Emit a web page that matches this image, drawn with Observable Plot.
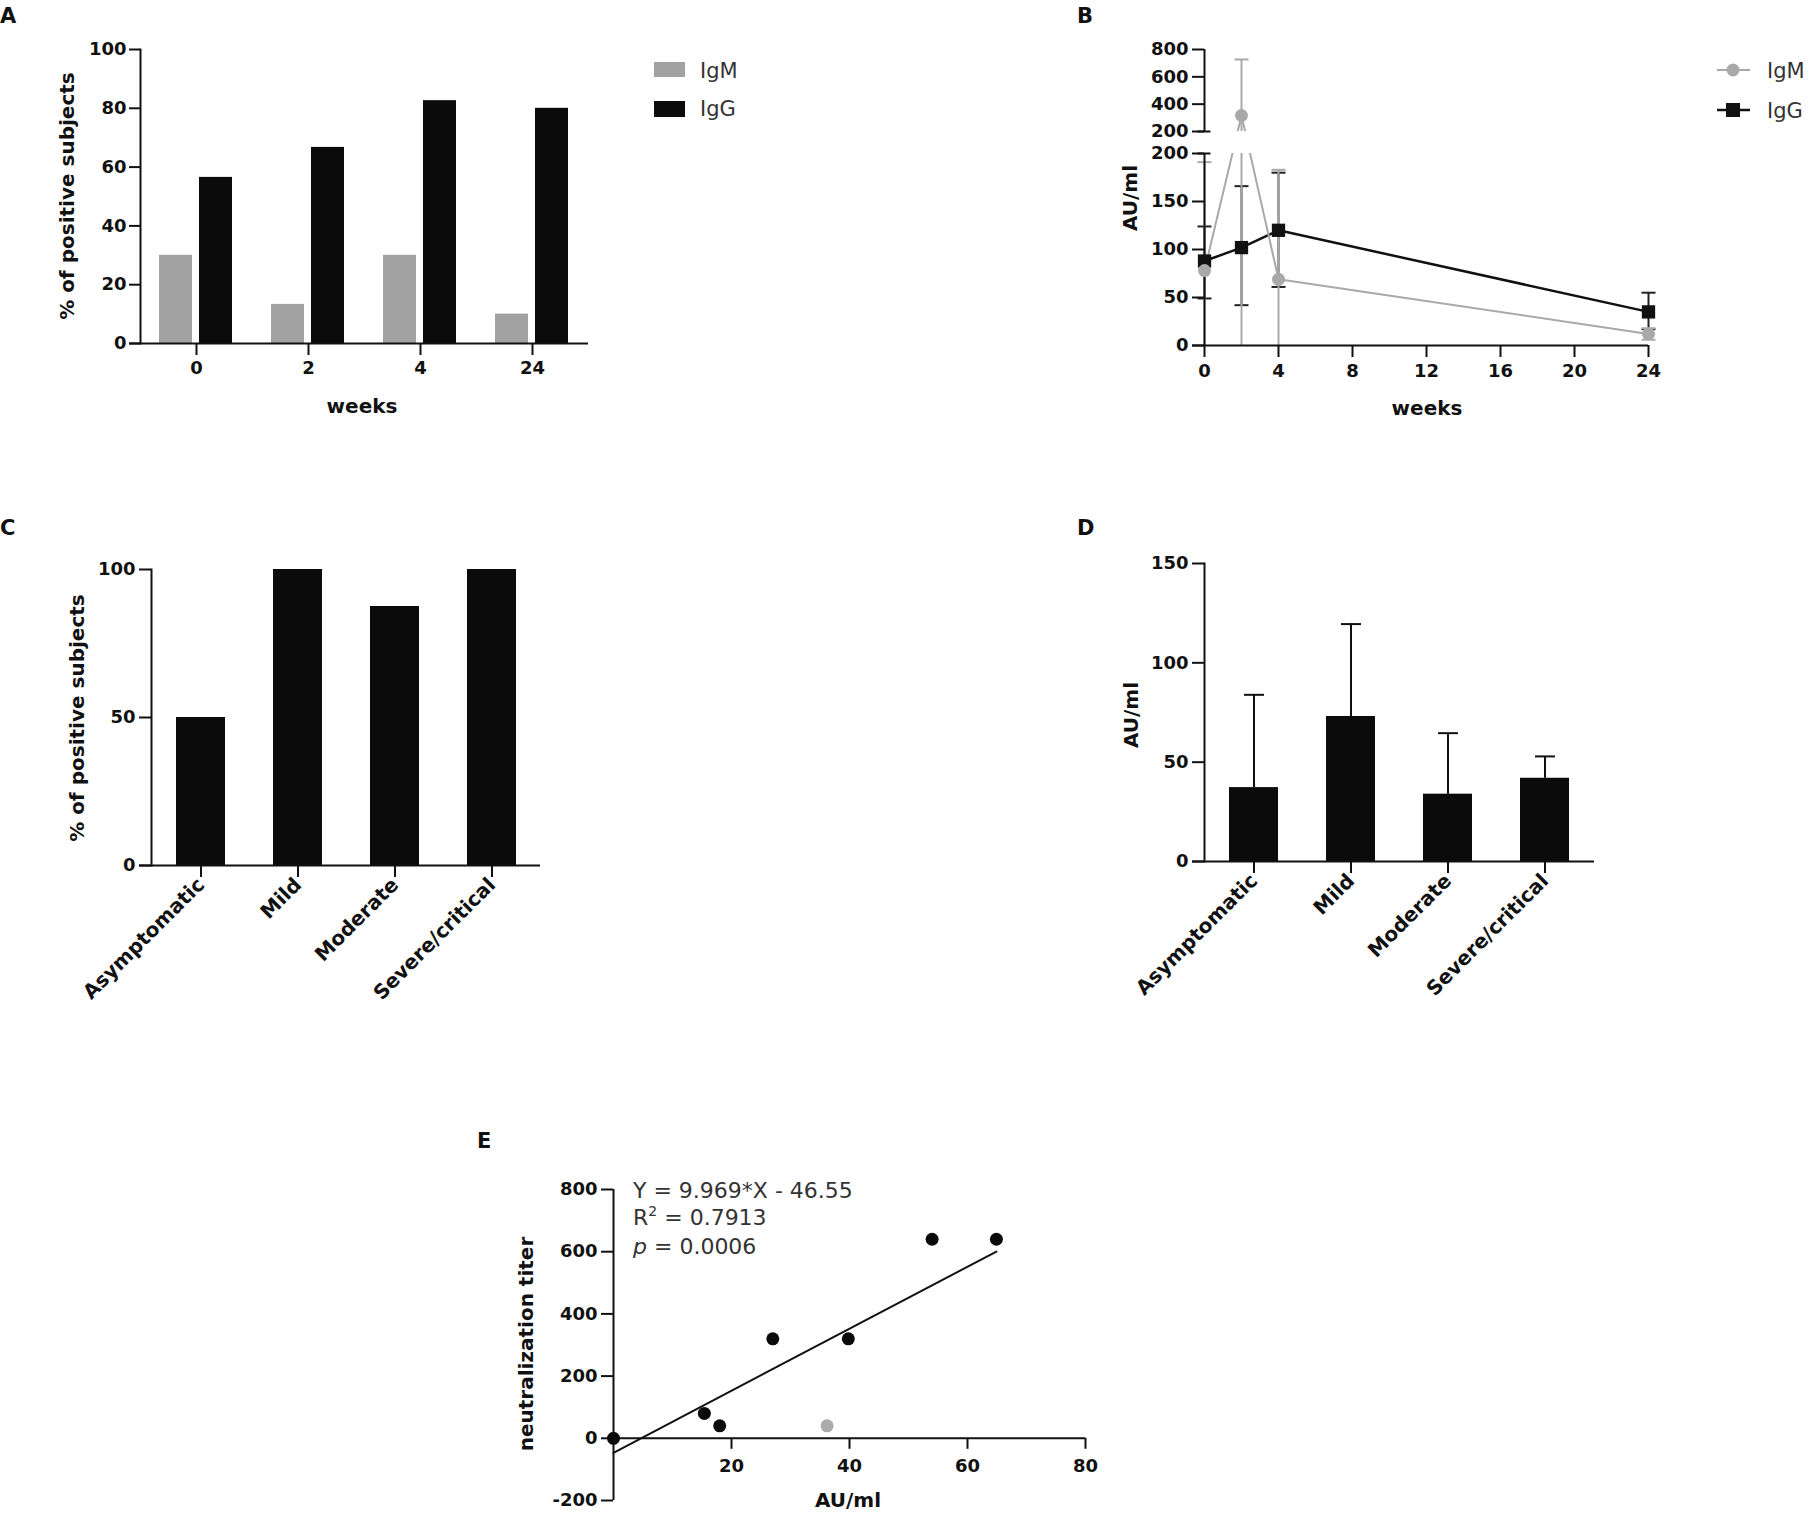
<!DOCTYPE html>
<html><head><meta charset="utf-8">
<script src="https://cdn.jsdelivr.net/npm/d3@7"></script>
<script src="https://cdn.jsdelivr.net/npm/@observablehq/plot@0.6"></script>
<style>
html,body{margin:0;padding:0;background:#fff;}
#page{position:relative;width:1817px;height:1514px;overflow:hidden;background:#fff;}
.panel{position:absolute;}
.panel svg{overflow:visible;background:transparent !important;max-width:none !important;}
#overlay{position:absolute;left:0;top:0;pointer-events:none;}
</style></head><body><div id="page"></div>
<script>
// ---------- data ----------
// Panel A: % positive subjects by week
const weeksCat = ["0", "2", "4", "24"];
const igmPct = [30, 13.3, 30, 10];
const iggPct = [56.5, 66.7, 82.6, 80];

// Panel B: AU/ml over weeks (mean with error bar ends)
const weeksNum = [0, 2, 4, 24];
const igmMean = [78, 317, 69, 12];
const igmLo = [0, 0, 0, 6];
const igmHi = [191, 727, 183, 18];
const iggMean = [88, 102, 120, 35];
const iggLo = [49, 42, 61, 17];
const iggHi = [124, 166, 180, 55];

// Panels C / D: by severity
const severity = ["Asymptomatic", "Mild", "Moderate", "Severe/critical"];
const severityPct = [50, 100, 87.5, 100];
const severityAU = [37.2, 73, 33.9, 41.9];
const severityAUHi = [83.9, 119.5, 64.6, 52.9];

// Panel E: neutralization titer vs AU/ml
const titerAU = [0, 15.4, 18, 27, 39.8, 54, 64.9];
const titerVal = [0, 80, 40, 320, 320, 640, 640];
const outlierAU = [36.2];
const outlierVal = [40];
const fitSlope = 9.969;
const fitIntercept = -46.55;

// ticks
const ticksA = [0, 20, 40, 60, 80, 100];
const ticksBLower = [0, 50, 100, 150, 200];
const ticksBUpper = [200, 400, 600, 800];
const ticksBX = [0, 4, 8, 12, 16, 20, 24];
const ticksC = [0, 50, 100];
const ticksD = [0, 50, 100, 150];
const ticksEY = [-200, 0, 200, 400, 600, 800];
const ticksEX = [20, 40, 60, 80];

// ---------- styles ----------
const GRAY = "#a2a2a2";
const BLACK = "#0b0b0b";
const FONT = "'DejaVu Sans', 'Liberation Sans', Arial, sans-serif";
const baseStyle = {fontFamily: FONT, fontSize: "18px", fontWeight: "bold", color: "#111", background: "transparent"};
const capSymbol = {draw(ctx, size) { const r = Math.sqrt(size / Math.PI); ctx.moveTo(-r, 0); ctx.lineTo(r, 0); }};

const page = document.getElementById("page");
function place(el, left, top) {
  const d = document.createElement("div");
  d.className = "panel"; d.style.left = left + "px"; d.style.top = top + "px";
  d.appendChild(el); page.appendChild(d);
}

// ---------- Panel A ----------
const aIgM = weeksCat.map((w, i) => ({week: w, v: igmPct[i]}));
const aIgG = weeksCat.map((w, i) => ({week: w, v: iggPct[i]}));
place(Plot.plot({
  width: 600, height: 400, marginLeft: 140, marginRight: 12, marginTop: 49, marginBottom: 57,
  style: baseStyle,
  x: {type: "band", domain: weeksCat, padding: 0, label: null},
  y: {domain: [0, 100], label: null},
  marks: [
    Plot.barY(aIgM, {x: "week", y: "v", fill: GRAY, insetLeft: 19, insetRight: 60}),
    Plot.barY(aIgG, {x: "week", y: "v", fill: BLACK, insetLeft: 59, insetRight: 20}),
    Plot.ruleY([0], {stroke: "#111", strokeWidth: 2, insetLeft: -11}),
    Plot.frame({anchor: "left", stroke: "#111", strokeWidth: 2}),
    Plot.axisY(ticksA, {tickSize: 11, tickPadding: 3, strokeWidth: 2, label: null}),
    Plot.axisX({tickSize: 12, tickPadding: 6, strokeWidth: 2, label: null})
  ]
}), 0, 0);

// ---------- Panel B (broken y axis) ----------
const LOWER_MAX = 200, GAP = 22.92, K = 0.14236;
const up = v => LOWER_MAX + GAP + (v - LOWER_MAX) * K;
const brk = v => v <= LOWER_MAX ? v : up(v);
const down = t => LOWER_MAX + (t - LOWER_MAX - GAP) / K;
const bIgM = weeksNum.map((w, i) => ({w, m: igmMean[i], lo: igmLo[i], hi: igmHi[i]}));
const bIgG = weeksNum.map((w, i) => ({w, m: iggMean[i], lo: iggLo[i], hi: iggHi[i]}));
const GRAYB = "#a9a9a9";
function errMarks(rows, color) {
  return [
    Plot.ruleX(rows, {x: "w", y1: d => brk(d.lo), y2: d => brk(d.hi), stroke: color, strokeWidth: 2}),
    Plot.dot(rows, {x: "w", y: d => brk(d.hi), symbol: capSymbol, r: 7, stroke: color, fill: "none", strokeWidth: 2}),
    Plot.dot(rows.filter(d => d.lo > 0), {x: "w", y: d => brk(d.lo), symbol: capSymbol, r: 7, stroke: color, fill: "none", strokeWidth: 2})
  ];
}
place(Plot.plot({
  width: 620, height: 400, marginLeft: 154, marginRight: 22, marginTop: 49, marginBottom: 55,
  style: baseStyle,
  x: {domain: [0, 24], label: null},
  y: {domain: [0, up(800)], label: null},
  marks: [
    ...errMarks(bIgG, "#222"),
    Plot.line(bIgG, {x: "w", y: d => brk(d.m), stroke: "#111", strokeWidth: 2.5}),
    ...errMarks(bIgM, GRAYB),
    Plot.line(bIgM, {x: "w", y: d => brk(d.m), stroke: GRAYB, strokeWidth: 2}),
    Plot.rect([{x1: 0, x2: 24, y1: LOWER_MAX, y2: up(LOWER_MAX)}], {x1: "x1", x2: "x2", y1: "y1", y2: "y2", fill: "white", insetLeft: 2}),
    Plot.ruleX([0], {y1: 0, y2: LOWER_MAX, stroke: "#111", strokeWidth: 2}),
    Plot.ruleX([0], {y1: up(LOWER_MAX), y2: up(800), stroke: "#111", strokeWidth: 2}),
    Plot.ruleY([0], {x1: -0.65, x2: 24, stroke: "#111", strokeWidth: 2}),
    Plot.ruleY([LOWER_MAX, up(LOWER_MAX)], {x1: -0.35, x2: 0.35, stroke: "#111", strokeWidth: 2}),
    Plot.axisY(ticksBLower, {tickSize: 12, tickPadding: 4, strokeWidth: 2, label: null}),
    Plot.axisY(ticksBUpper.map(up), {tickFormat: t => String(Math.round(down(t))), tickSize: 12, tickPadding: 4, strokeWidth: 2, label: null}),
    Plot.axisX(ticksBX, {tickSize: 12, tickPadding: 7, strokeWidth: 2, label: null}),
    Plot.dot(bIgG, {x: "w", y: d => brk(d.m), symbol: "square", r: 7.5, fill: "#111"}),
    Plot.dot(bIgM, {x: "w", y: d => brk(d.m), r: 6.5, fill: GRAYB})
  ]
}), 1050, 0);

// ---------- Panel C ----------
const cRows = severity.map((c, i) => ({c, v: severityPct[i]}));
place(Plot.plot({
  width: 560, height: 520, marginLeft: 151, marginRight: 20, marginTop: 69, marginBottom: 155,
  style: baseStyle,
  x: {type: "band", domain: severity, paddingInner: 0.5, paddingOuter: 0.25, label: null},
  y: {domain: [0, 100], label: null},
  marks: [
    Plot.barY(cRows, {x: "c", y: "v", fill: BLACK}),
    Plot.ruleY([0], {stroke: "#111", strokeWidth: 2, insetLeft: -12}),
    Plot.frame({anchor: "left", stroke: "#111", strokeWidth: 2}),
    Plot.axisY(ticksC, {tickSize: 12, tickPadding: 4, strokeWidth: 2, label: null}),
    Plot.axisX({tickSize: 12, tickPadding: 4, tickRotate: -45, strokeWidth: 2, fontSize: 20, label: null})
  ]
}), 0, 500);

// ---------- Panel D ----------
const dRows = severity.map((c, i) => ({c, m: severityAU[i], hi: severityAUHi[i]}));
place(Plot.plot({
  width: 570, height: 520, marginLeft: 154, marginRight: 26, marginTop: 63, marginBottom: 159,
  style: baseStyle,
  x: {type: "band", domain: severity, paddingInner: 0.5, paddingOuter: 0.25, label: null},
  y: {domain: [0, 150], label: null},
  marks: [
    Plot.ruleX(dRows, {x: "c", y1: "m", y2: "hi", stroke: "#111", strokeWidth: 2}),
    Plot.dot(dRows, {x: "c", y: "hi", symbol: capSymbol, r: 10, stroke: "#111", fill: "none", strokeWidth: 2}),
    Plot.barY(dRows, {x: "c", y: "m", fill: BLACK}),
    Plot.ruleY([0], {stroke: "#111", strokeWidth: 2, insetLeft: -12}),
    Plot.frame({anchor: "left", stroke: "#111", strokeWidth: 2}),
    Plot.axisY(ticksD, {tickSize: 12, tickPadding: 4, strokeWidth: 2, label: null}),
    Plot.axisX({tickSize: 12, tickPadding: 4, tickRotate: -45, strokeWidth: 2, fontSize: 20, label: null})
  ]
}), 1050, 500);

// ---------- Panel E ----------
const ePts = titerAU.map((x, i) => ({x, y: titerVal[i]}));
const eOut = outlierAU.map((x, i) => ({x, y: outlierVal[i]}));
const fitPts = d3.extent(titerAU).map(x => ({x, y: fitSlope * x + fitIntercept}));
const eH = 414, eTop = 89, eBottom = 14;
const eYDomain = [-200, 800];
const eAxisDy = -((0 - eYDomain[0]) / (eYDomain[1] - eYDomain[0])) * (eH - eTop - eBottom);
place(Plot.plot({
  width: 660, height: eH, marginLeft: 163, marginRight: 25, marginTop: eTop, marginBottom: eBottom,
  style: baseStyle,
  x: {domain: [0, 80], label: null},
  y: {domain: eYDomain, label: null},
  marks: [
    Plot.ruleX([0], {y1: -200, y2: 800, stroke: "#111", strokeWidth: 2}),
    Plot.ruleY([0], {x1: 0, x2: 80, stroke: "#111", strokeWidth: 2}),
    Plot.line(fitPts, {x: "x", y: "y", stroke: "#111", strokeWidth: 2}),
    Plot.axisY(ticksEY, {tickFormat: d => String(d), tickSize: 12, tickPadding: 4, strokeWidth: 2, label: null}),
    Plot.axisX(ticksEX, {tickSize: 11, tickPadding: 10, dy: eAxisDy, strokeWidth: 2, label: null}),
    Plot.dot(eOut, {x: "x", y: "y", r: 6.5, fill: "#ababab"}),
    Plot.dot(ePts, {x: "x", y: "y", r: 6.5, fill: "#0b0b0b"})
  ]
}), 450, 1100);

// ---------- overlay text: panel letters, axis titles, legends, annotation ----------
const ov = d3.create("svg").attr("id", "overlay").attr("width", 1817).attr("height", 1514)
  .style("font-family", FONT);
function label(x, y, text, opts = {}) {
  const t = ov.append("text").attr("x", x).attr("y", y).text(text)
    .attr("font-size", opts.size || 20).attr("font-weight", opts.weight || "bold")
    .attr("fill", opts.fill || "#111").attr("text-anchor", opts.anchor || "start");
  if (opts.rotate) t.attr("transform", `rotate(${opts.rotate},${x},${y})`);
  return t;
}
// panel letters
label(0, 23, "A", {size: 21});
label(1077, 23, "B", {size: 21});
label(0, 535, "C", {size: 21});
label(1077, 535, "D", {size: 21});
label(477, 1148, "E", {size: 21});
// axis titles
label(362, 413, "weeks", {anchor: "middle"});
label(74, 196, "% of positive subjects", {anchor: "middle", rotate: -90});
label(1427, 415, "weeks", {anchor: "middle"});
label(1137, 198, "AU/ml", {anchor: "middle", rotate: -90});
label(84, 718, "% of positive subjects", {anchor: "middle", rotate: -90});
label(1138, 715, "AU/ml", {anchor: "middle", rotate: -90});
label(533, 1344, "neutralization titer", {anchor: "middle", rotate: -90});
label(848, 1507, "AU/ml", {anchor: "middle"});
// legend A
ov.append("rect").attr("x", 654).attr("y", 62).attr("width", 31).attr("height", 15).attr("fill", GRAY);
ov.append("rect").attr("x", 654).attr("y", 101).attr("width", 31).attr("height", 16).attr("fill", BLACK);
label(700, 78, "IgM", {weight: "normal", size: 21, fill: "#333"});
label(700, 116, "IgG", {weight: "normal", size: 21, fill: "#333"});
// legend B
ov.append("line").attr("x1", 1717).attr("x2", 1750).attr("y1", 70).attr("y2", 70).attr("stroke", GRAYB).attr("stroke-width", 2);
ov.append("circle").attr("cx", 1733).attr("cy", 70).attr("r", 6.5).attr("fill", GRAYB);
ov.append("line").attr("x1", 1717).attr("x2", 1750).attr("y1", 110).attr("y2", 110).attr("stroke", "#111").attr("stroke-width", 2.5);
ov.append("rect").attr("x", 1726).attr("y", 103).attr("width", 14).attr("height", 14).attr("fill", "#111");
label(1767, 78, "IgM", {weight: "normal", size: 21, fill: "#333"});
label(1767, 118, "IgG", {weight: "normal", size: 21, fill: "#333"});
// annotation E
label(633, 1198, `Y = ${fitSlope}*X - ${Math.abs(fitIntercept)}`, {weight: "normal", size: 22, fill: "#333"});
const r2 = label(633, 1225, "R", {weight: "normal", size: 22, fill: "#333"});
r2.append("tspan").attr("dy", -9).attr("font-size", 14).text("2");
r2.append("tspan").attr("dy", 9).text(" = 0.7913");
const pp = label(633, 1254, "", {weight: "normal", size: 22, fill: "#333"});
pp.append("tspan").attr("font-style", "italic").text("p");
pp.append("tspan").text(" = 0.0006");
page.appendChild(ov.node());
</script>
</body></html>
